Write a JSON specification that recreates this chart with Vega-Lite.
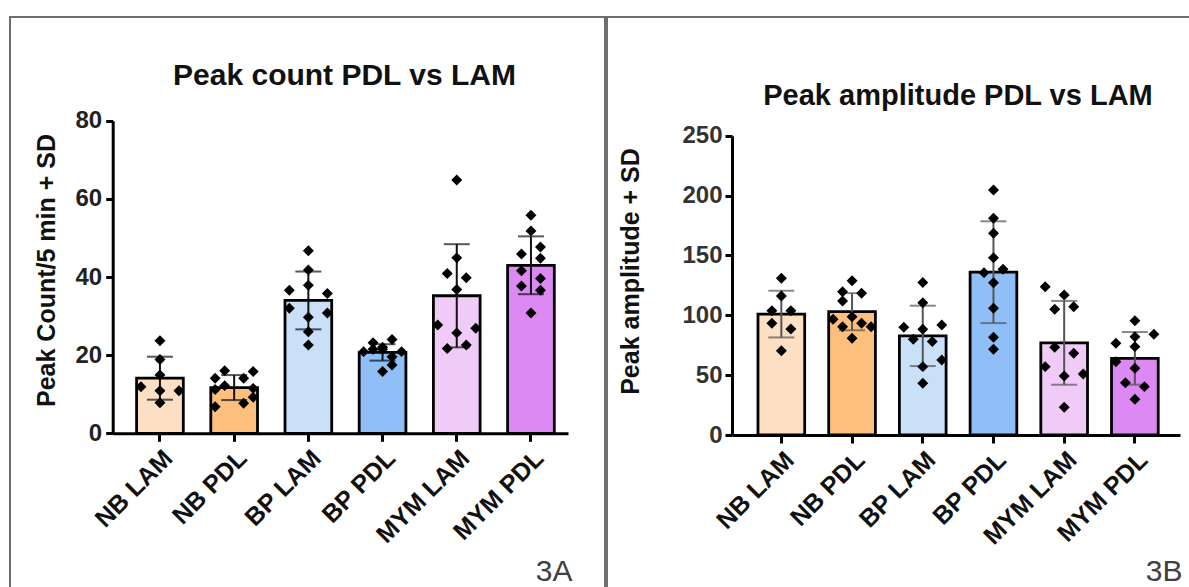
{
  "$schema": "https://vega.github.io/schema/vega-lite/v6.json",
  "padding": {"left": 9, "top": 16, "right": 0, "bottom": 0},
  "background": "white",
  "spacing": 0,
  "config": {
    "view": {"stroke": "#6e6e6e", "strokeWidth": 2},
    "font": "Liberation Sans",
    "axis": {"grid": false}
  },
  "datasets": {
    "countSummary": [
      {"group": "NB LAM", "value": 14.1, "sd": 5.5},
      {"group": "NB PDL", "value": 11.7, "sd": 3.2},
      {"group": "BP LAM", "value": 34.0, "sd": 7.4},
      {"group": "BP PDL", "value": 20.7, "sd": 2.1},
      {"group": "MYM LAM", "value": 35.2, "sd": 13.2},
      {"group": "MYM PDL", "value": 43.0, "sd": 7.4}
    ],
    "countPoints": [
      {"group": "NB LAM", "value": 23.7, "lane": 3},
      {"group": "NB LAM", "value": 18.9, "lane": 3},
      {"group": "NB LAM", "value": 14.9, "lane": 3},
      {"group": "NB LAM", "value": 11.9, "lane": 1},
      {"group": "NB LAM", "value": 10.9, "lane": 3},
      {"group": "NB LAM", "value": 10.9, "lane": 5},
      {"group": "NB LAM", "value": 7.8, "lane": 3},
      {"group": "NB PDL", "value": 16.0, "lane": 2},
      {"group": "NB PDL", "value": 15.8, "lane": 5},
      {"group": "NB PDL", "value": 14.1, "lane": 1},
      {"group": "NB PDL", "value": 14.1, "lane": 4},
      {"group": "NB PDL", "value": 12.2, "lane": 2},
      {"group": "NB PDL", "value": 11.2, "lane": 1},
      {"group": "NB PDL", "value": 11.5, "lane": 5},
      {"group": "NB PDL", "value": 9.2, "lane": 5},
      {"group": "NB PDL", "value": 7.7, "lane": 4},
      {"group": "NB PDL", "value": 6.8, "lane": 1},
      {"group": "BP LAM", "value": 46.7, "lane": 3},
      {"group": "BP LAM", "value": 41.8, "lane": 3},
      {"group": "BP LAM", "value": 37.9, "lane": 3},
      {"group": "BP LAM", "value": 36.6, "lane": 1},
      {"group": "BP LAM", "value": 35.8, "lane": 5},
      {"group": "BP LAM", "value": 32.0, "lane": 1},
      {"group": "BP LAM", "value": 30.8, "lane": 5},
      {"group": "BP LAM", "value": 29.7, "lane": 3},
      {"group": "BP LAM", "value": 26.0, "lane": 3},
      {"group": "BP LAM", "value": 22.6, "lane": 3},
      {"group": "BP PDL", "value": 24.0, "lane": 4},
      {"group": "BP PDL", "value": 23.2, "lane": 2},
      {"group": "BP PDL", "value": 22.0, "lane": 3},
      {"group": "BP PDL", "value": 21.5, "lane": 3},
      {"group": "BP PDL", "value": 21.5, "lane": 2},
      {"group": "BP PDL", "value": 20.9, "lane": 1},
      {"group": "BP PDL", "value": 20.9, "lane": 5},
      {"group": "BP PDL", "value": 19.6, "lane": 4},
      {"group": "BP PDL", "value": 17.5, "lane": 4},
      {"group": "BP PDL", "value": 15.8, "lane": 3},
      {"group": "MYM LAM", "value": 64.8, "lane": 3},
      {"group": "MYM LAM", "value": 44.9, "lane": 3},
      {"group": "MYM LAM", "value": 40.9, "lane": 2},
      {"group": "MYM LAM", "value": 39.8, "lane": 4},
      {"group": "MYM LAM", "value": 36.8, "lane": 3},
      {"group": "MYM LAM", "value": 27.7, "lane": 1},
      {"group": "MYM LAM", "value": 26.9, "lane": 5},
      {"group": "MYM LAM", "value": 25.7, "lane": 3},
      {"group": "MYM LAM", "value": 22.6, "lane": 4},
      {"group": "MYM LAM", "value": 21.7, "lane": 2},
      {"group": "MYM PDL", "value": 55.8, "lane": 3},
      {"group": "MYM PDL", "value": 51.8, "lane": 3},
      {"group": "MYM PDL", "value": 47.7, "lane": 4},
      {"group": "MYM PDL", "value": 45.9, "lane": 2},
      {"group": "MYM PDL", "value": 44.8, "lane": 4},
      {"group": "MYM PDL", "value": 41.6, "lane": 2},
      {"group": "MYM PDL", "value": 39.6, "lane": 4},
      {"group": "MYM PDL", "value": 37.7, "lane": 2},
      {"group": "MYM PDL", "value": 36.6, "lane": 4},
      {"group": "MYM PDL", "value": 30.8, "lane": 3}
    ],
    "ampSummary": [
      {"group": "NB LAM", "value": 101, "sd": 19.5},
      {"group": "NB PDL", "value": 103, "sd": 15.5},
      {"group": "BP LAM", "value": 82.8, "sd": 25.2},
      {"group": "BP PDL", "value": 136, "sd": 42.5},
      {"group": "MYM LAM", "value": 77, "sd": 35},
      {"group": "MYM PDL", "value": 64, "sd": 22}
    ],
    "ampPoints": [
      {"group": "NB LAM", "value": 130.9, "lane": 3},
      {"group": "NB LAM", "value": 116.1, "lane": 3},
      {"group": "NB LAM", "value": 103.8, "lane": 2},
      {"group": "NB LAM", "value": 103.8, "lane": 4},
      {"group": "NB LAM", "value": 93.3, "lane": 2},
      {"group": "NB LAM", "value": 88.6, "lane": 4},
      {"group": "NB LAM", "value": 70.4, "lane": 3},
      {"group": "NB PDL", "value": 128.9, "lane": 3},
      {"group": "NB PDL", "value": 119.7, "lane": 2},
      {"group": "NB PDL", "value": 118.4, "lane": 4},
      {"group": "NB PDL", "value": 112.0, "lane": 2},
      {"group": "NB PDL", "value": 98.8, "lane": 3},
      {"group": "NB PDL", "value": 96.7, "lane": 1},
      {"group": "NB PDL", "value": 93.3, "lane": 4},
      {"group": "NB PDL", "value": 90.5, "lane": 2},
      {"group": "NB PDL", "value": 90.5, "lane": 5},
      {"group": "NB PDL", "value": 80.8, "lane": 3},
      {"group": "BP LAM", "value": 127.3, "lane": 3},
      {"group": "BP LAM", "value": 110.5, "lane": 3},
      {"group": "BP LAM", "value": 91.9, "lane": 5},
      {"group": "BP LAM", "value": 90.0, "lane": 1},
      {"group": "BP LAM", "value": 88.3, "lane": 3},
      {"group": "BP LAM", "value": 80.0, "lane": 2},
      {"group": "BP LAM", "value": 78.0, "lane": 4},
      {"group": "BP LAM", "value": 62.7, "lane": 5},
      {"group": "BP LAM", "value": 57.1, "lane": 3},
      {"group": "BP LAM", "value": 43.2, "lane": 3},
      {"group": "BP PDL", "value": 204.7, "lane": 3},
      {"group": "BP PDL", "value": 181.0, "lane": 3},
      {"group": "BP PDL", "value": 168.5, "lane": 3},
      {"group": "BP PDL", "value": 148.1, "lane": 3},
      {"group": "BP PDL", "value": 138.4, "lane": 4},
      {"group": "BP PDL", "value": 135.6, "lane": 2},
      {"group": "BP PDL", "value": 127.2, "lane": 3},
      {"group": "BP PDL", "value": 105.8, "lane": 3},
      {"group": "BP PDL", "value": 81.6, "lane": 3},
      {"group": "BP PDL", "value": 71.6, "lane": 3},
      {"group": "MYM LAM", "value": 123.9, "lane": 1},
      {"group": "MYM LAM", "value": 117.0, "lane": 3},
      {"group": "MYM LAM", "value": 107.2, "lane": 4},
      {"group": "MYM LAM", "value": 105.0, "lane": 2},
      {"group": "MYM LAM", "value": 73.3, "lane": 2},
      {"group": "MYM LAM", "value": 68.2, "lane": 4},
      {"group": "MYM LAM", "value": 57.1, "lane": 1},
      {"group": "MYM LAM", "value": 51.0, "lane": 5},
      {"group": "MYM LAM", "value": 49.3, "lane": 3},
      {"group": "MYM LAM", "value": 23.1, "lane": 3},
      {"group": "MYM PDL", "value": 95.5, "lane": 3},
      {"group": "MYM PDL", "value": 84.1, "lane": 5},
      {"group": "MYM PDL", "value": 82.1, "lane": 3},
      {"group": "MYM PDL", "value": 76.6, "lane": 1},
      {"group": "MYM PDL", "value": 73.8, "lane": 3},
      {"group": "MYM PDL", "value": 61.2, "lane": 1},
      {"group": "MYM PDL", "value": 55.7, "lane": 3},
      {"group": "MYM PDL", "value": 43.7, "lane": 2},
      {"group": "MYM PDL", "value": 40.4, "lane": 4},
      {"group": "MYM PDL", "value": 29.8, "lane": 3}
    ]
  },
  "hconcat": [
    {
      "width": 595,
      "height": 583,
      "title": {"text": "Peak count PDL vs LAM", "fontSize": 30, "fontWeight": "bold", "color": "#111111", "anchor": "middle", "frame": "group", "baseline": "alphabetic", "offset": -98, "dx": 37},
      "encoding": {
        "x": {
          "field": "group", "type": "nominal",
          "sort": ["NB LAM", "NB PDL", "BP LAM", "BP PDL", "MYM LAM", "MYM PDL"],
          "scale": {"range": [102.7, 558], "paddingInner": 0.37, "paddingOuter": 0.253, "align": 0.636},
          "axis": {
            "title": "3A", "orient": "bottom", "offset": -166.7,
            "labelAngle": -45, "labelFontSize": 25, "labelFontWeight": "bold", "labelColor": "#111111", "labelPadding": 4,
            "domainColor": "black", "domainWidth": 3, "tickColor": "black", "tickWidth": 3, "tickSize": 8,
            "titleFontSize": 30, "titleFontWeight": "normal", "titleColor": "#404040",
            "titleX": 562, "titleY": 146.7, "titleAlign": "right", "titleBaseline": "alphabetic"
          }
        },
        "y": {
          "field": "value", "type": "quantitative",
          "scale": {"domain": [0, 80], "range": [416.3, 103.7], "nice": false, "zero": true},
          "axis": {
            "title": "Peak Count/5 min + SD", "values": [0, 20, 40, 60, 80], "offset": -102.7,
            "domainColor": "black", "domainWidth": 3, "tickColor": "black", "tickWidth": 3, "tickSize": 7,
            "labelFontSize": 24, "labelFontWeight": "bold", "labelColor": "#222222", "labelPadding": 4,
            "titleFontSize": 25, "titleFontWeight": "bold", "titleColor": "#111111", "titlePadding": 16, "titleY": 253
          }
        }
      },
      "layer": [
        {
          "data": {"name": "countSummary"},
          "mark": {"type": "bar", "stroke": "black", "strokeWidth": 2.8, "width": 46.7},
          "encoding": {
            "fill": {"field": "group", "type": "nominal", "legend": null,
              "scale": {"domain": ["NB LAM", "NB PDL", "BP LAM", "BP PDL", "MYM LAM", "MYM PDL"],
                        "range": ["#FDDFC3", "#FDBF7D", "#CADFF8", "#90BEF7", "#F0CBF7", "#DC89F4"]}}
          }
        },
        {
          "data": {"name": "countSummary"},
          "mark": {"type": "errorbar", "color": "#111111", "ticks": {"size": 26, "thickness": 2, "color": "#111111"}, "rule": {"strokeWidth": 2, "color": "#111111"}},
          "encoding": {"yError": {"field": "sd"}}
        },
        {
          "data": {"name": "countPoints"},
          "mark": {"type": "point", "shape": "diamond", "filled": true, "color": "black", "size": 120, "opacity": 1},
          "encoding": {
            "xOffset": {"field": "lane", "type": "ordinal", "scale": {"type": "point", "domain": [1, 2, 3, 4, 5], "padding": 0.46}}
          }
        }
      ]
    },
    {
      "width": 600,
      "height": 583,
      "title": {"text": "Peak amplitude PDL vs LAM", "fontSize": 29, "fontWeight": "bold", "color": "#111111", "anchor": "middle", "frame": "group", "baseline": "alphabetic", "offset": -117, "dx": 51},
      "encoding": {
        "x": {
          "field": "group", "type": "nominal",
          "sort": ["NB LAM", "NB PDL", "BP LAM", "BP PDL", "MYM LAM", "MYM PDL"],
          "scale": {"range": [125, 573], "paddingInner": 0.34, "paddingOuter": 0.338, "align": 0.544},
          "axis": {
            "title": "3B", "orient": "bottom", "offset": -165,
            "labelAngle": -45, "labelFontSize": 25, "labelFontWeight": "bold", "labelColor": "#111111", "labelPadding": 4,
            "domainColor": "black", "domainWidth": 3, "tickColor": "black", "tickWidth": 3, "tickSize": 8,
            "titleFontSize": 30, "titleFontWeight": "normal", "titleColor": "#404040",
            "titleX": 575, "titleY": 145, "titleAlign": "right", "titleBaseline": "alphabetic"
          }
        },
        "y": {
          "field": "value", "type": "quantitative",
          "scale": {"domain": [0, 250], "range": [418, 118.7], "nice": false, "zero": true},
          "axis": {
            "title": "Peak amplitude + SD", "values": [0, 50, 100, 150, 200, 250], "offset": -125,
            "domainColor": "black", "domainWidth": 3, "tickColor": "black", "tickWidth": 3, "tickSize": 7,
            "labelFontSize": 24, "labelFontWeight": "bold", "labelColor": "#333333", "labelPadding": 3,
            "titleFontSize": 25, "titleFontWeight": "bold", "titleColor": "#111111", "titlePadding": 38, "titleY": 254
          }
        }
      },
      "layer": [
        {
          "data": {"name": "ampSummary"},
          "mark": {"type": "bar", "stroke": "black", "strokeWidth": 2.8, "width": 46.7},
          "encoding": {
            "fill": {"field": "group", "type": "nominal", "legend": null,
              "scale": {"domain": ["NB LAM", "NB PDL", "BP LAM", "BP PDL", "MYM LAM", "MYM PDL"],
                        "range": ["#FDDFC3", "#FDBF7D", "#CADFF8", "#90BEF7", "#F0CBF7", "#DC89F4"]}}
          }
        },
        {
          "data": {"name": "ampSummary"},
          "mark": {"type": "errorbar", "color": "#555555", "ticks": {"size": 26, "thickness": 2, "color": "#555555"}, "rule": {"strokeWidth": 2, "color": "#555555"}},
          "encoding": {"yError": {"field": "sd"}}
        },
        {
          "data": {"name": "ampPoints"},
          "mark": {"type": "point", "shape": "diamond", "filled": true, "color": "black", "size": 120, "opacity": 1},
          "encoding": {
            "xOffset": {"field": "lane", "type": "ordinal", "scale": {"type": "point", "domain": [1, 2, 3, 4, 5], "padding": 0.46}}
          }
        }
      ]
    }
  ]
}
